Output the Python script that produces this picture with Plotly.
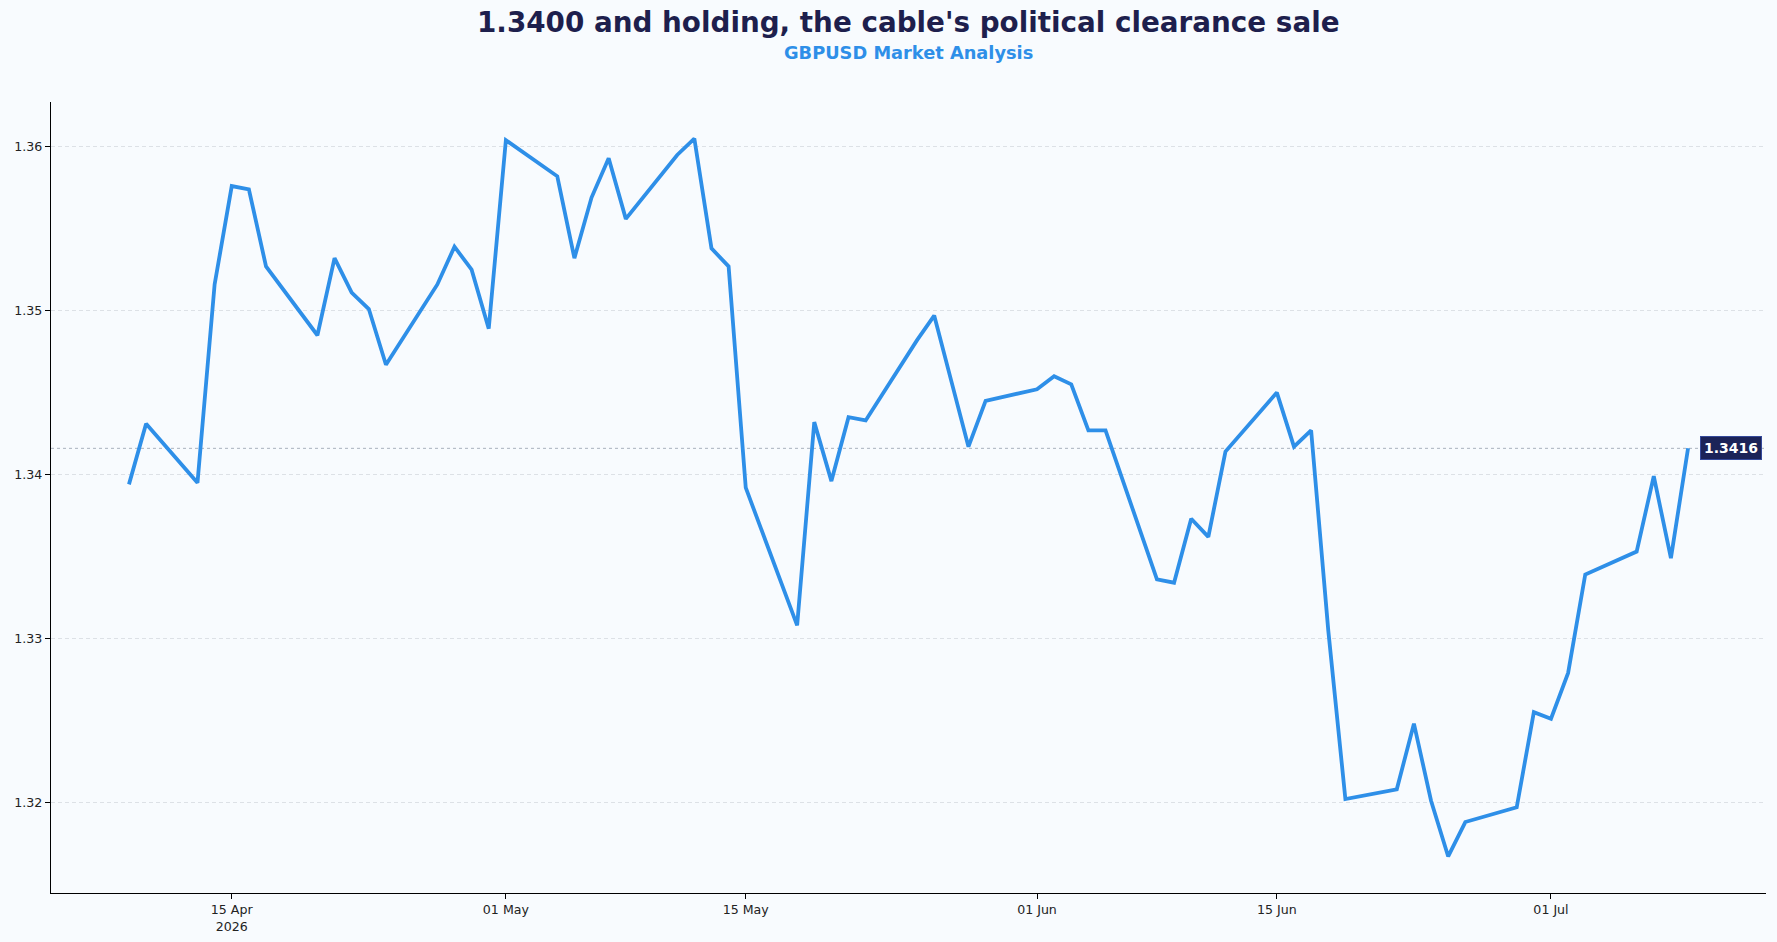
import pandas as pd
import plotly.graph_objects as go

dates = pd.bdate_range("2026-04-09", "2026-07-09")
gbpusd = [
    1.3394, 1.3431,
    1.3395, 1.3516, 1.3576, 1.3574, 1.3527,
    1.3485, 1.3532, 1.3511, 1.3501, 1.3467,
    1.3516, 1.3539, 1.3525, 1.3489, 1.3604,
    1.3582, 1.3532, 1.3569, 1.3593, 1.3556,
    1.3595, 1.3605, 1.3538, 1.3527, 1.3392,
    1.3308, 1.3432, 1.3396, 1.3435, 1.3433,
    1.3482, 1.3497, 1.3457, 1.3417, 1.3445,
    1.3452, 1.3460, 1.3455, 1.3427, 1.3427,
    1.3336, 1.3334, 1.3373, 1.3362, 1.3414,
    1.3450, 1.3417, 1.3427, 1.3305, 1.3202,
    1.3208, 1.3248, 1.3201, 1.3167, 1.3188,
    1.3197, 1.3255, 1.3251, 1.3279, 1.3339,
    1.3353, 1.3399, 1.3349, 1.3416,
]
last_value = 1.3416
x_tick_vals = ["2026-04-15", "2026-05-01", "2026-05-15", "2026-06-01", "2026-06-15", "2026-07-01"]
x_tick_text = ["15 Apr<br>2026", "01 May", "15 May", "01 Jun", "15 Jun", "01 Jul"]
y_tick_vals = [1.32, 1.33, 1.34, 1.35, 1.36]
y_tick_text = ["1.32", "1.33", "1.34", "1.35", "1.36"]

title_text = "1.3400 and holding, the cable's political clearance sale"
subtitle_text = "GBPUSD Market Analysis"

LINE = "#2E8FE8"
NAVY = "#1E1F4D"
BG = "#F8FBFE"
FONT = "DejaVu Sans"

fig = go.Figure()
fig.add_trace(go.Scatter(
    x=dates, y=gbpusd, mode="lines",
    line=dict(color=LINE, width=3.8),
    hoverinfo="skip", showlegend=False,
))

fig.add_shape(type="line", xref="paper", x0=0, x1=1, yref="y",
              y0=last_value, y1=last_value,
              line=dict(color="#A9B1BD", width=1, dash="dot"), layer="below")

fig.add_annotation(x=dates[-1], y=last_value, xref="x", yref="y",
                   text="<b>%.4f</b>" % last_value, showarrow=False,
                   xanchor="left", yanchor="middle", xshift=12,
                   font=dict(family=FONT, size=14, color="white"),
                   bgcolor="#1B2358", bordercolor="#34499A", borderwidth=1, borderpad=3)

fig.add_annotation(text="<b>%s</b>" % title_text, xref="paper", yref="paper",
                   x=0.5, y=1.1003, xanchor="center", yanchor="middle",
                   showarrow=False, font=dict(family=FONT, size=27.8, color=NAVY))
fig.add_annotation(text="<b>%s</b>" % subtitle_text, xref="paper", yref="paper",
                   x=0.5, y=1.0632, xanchor="center", yanchor="middle",
                   showarrow=False, font=dict(family=FONT, size=17.8, color=LINE))

fig.update_layout(
    width=1777, height=942,
    margin=dict(l=51, r=11, t=102, b=49, autoexpand=False),
    paper_bgcolor=BG, plot_bgcolor=BG,
    font=dict(family=FONT, size=12.6, color="#222222"),
    showlegend=False,
)
fig.update_xaxes(
    range=["2026-04-04 10:48", "2026-07-13 13:12"],
    tickvals=x_tick_vals, ticktext=x_tick_text,
    showgrid=False, zeroline=False, automargin=False,
    showline=True, linecolor="black", linewidth=1.2,
    ticks="outside", ticklen=5, tickcolor="black", tickwidth=1,
    tickfont=dict(family=FONT, size=12.6, color="#222222"),
)
fig.update_yaxes(
    range=[1.31447, 1.36273],
    tickvals=y_tick_vals, ticktext=y_tick_text,
    showgrid=True, gridcolor="#DDE1E6", griddash="4px,3px", gridwidth=0.8,
    zeroline=False, automargin=False,
    showline=True, linecolor="black", linewidth=1.2,
    ticks="outside", ticklen=5, tickcolor="black", tickwidth=1,
    tickfont=dict(family=FONT, size=12.6, color="#222222"),
)

fig.write_html("out.html")
